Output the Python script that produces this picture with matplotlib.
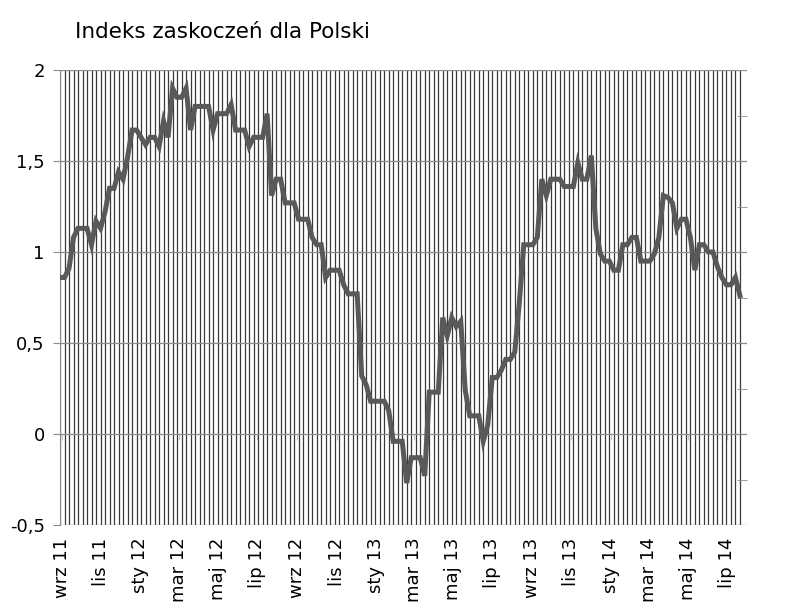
# Indeks zaskoczen dla Polski - weekly series, Excel-like look

import numpy as np
import pandas as pd
import matplotlib
matplotlib.use('Agg')
import matplotlib.pyplot as plt
from matplotlib.ticker import MultipleLocator, FuncFormatter, FixedLocator

start = '2011-08-29'
values = [0.86, 0.86, 0.91, 1.08, 1.13, 1.13, 1.13, 1.04, 1.17, 1.13,
          1.22, 1.35, 1.35, 1.44, 1.40, 1.52, 1.67, 1.67, 1.63, 1.59,
          1.63, 1.63, 1.58, 1.72, 1.63, 1.90, 1.85, 1.85, 1.90, 1.67,
          1.80, 1.80, 1.80, 1.80, 1.67, 1.76, 1.76, 1.76, 1.81, 1.67,
          1.67, 1.67, 1.58, 1.63, 1.63, 1.63, 1.76, 1.31, 1.40, 1.40,
          1.27, 1.27, 1.27, 1.18, 1.18, 1.18, 1.08, 1.04, 1.04, 0.86,
          0.90, 0.90, 0.90, 0.82, 0.77, 0.77, 0.77, 0.32, 0.27, 0.18,
          0.18, 0.18, 0.18, 0.13, -0.04, -0.04, -0.04, -0.27, -0.13, -0.13,
          -0.13, -0.23, 0.23, 0.23, 0.23, 0.64, 0.54, 0.64, 0.59, 0.62,
          0.24, 0.10, 0.10, 0.10, -0.04, 0.05, 0.31, 0.31, 0.35, 0.41,
          0.41, 0.45, 0.72, 1.04, 1.04, 1.04, 1.08, 1.40, 1.31, 1.40,
          1.40, 1.40, 1.36, 1.36, 1.36, 1.49, 1.40, 1.40, 1.53, 1.13,
          0.99, 0.95, 0.95, 0.90, 0.90, 1.04, 1.04, 1.08, 1.08, 0.95,
          0.95, 0.95, 0.99, 1.08, 1.31, 1.30, 1.27, 1.13, 1.18, 1.18,
          1.08, 0.90, 1.04, 1.04, 1.00, 1.00, 0.92, 0.86, 0.82, 0.82,
          0.86, 0.76]
dates = pd.date_range(start, periods=len(values), freq='7D')

month_ticks = pd.date_range('2011-09-01', '2014-07-01', freq='2MS')
month_names = ['wrz 11', 'lis 11', 'sty 12', 'mar 12', 'maj 12', 'lip 12',
               'wrz 12', 'lis 12', 'sty 13', 'mar 13', 'maj 13', 'lip 13',
               'wrz 13', 'lis 13', 'sty 14', 'mar 14', 'maj 14', 'lip 14']

plt.rcParams['font.family'] = ['DejaVu Sans']

fig = plt.figure(figsize=(7.89, 6.05), dpi=100)
ax = fig.add_axes([60/789, 80/605, 687/789, 455/605])

# weekly vertical gridlines
for d in dates:
    ax.axvline(d, color='#3a3a3a', lw=0.9, zorder=1)
# horizontal gridlines
for yv in np.arange(-0.5, 2.01, 0.5):
    ax.axhline(yv, color='#8c8c8c', lw=0.9, zorder=1)

ax.plot(dates, values, color='#595959', lw=3.6, solid_joinstyle='miter', zorder=3)

ax.set_xlim(dates[0], dates[-1] + pd.Timedelta(days=11))
ax.set_ylim(-0.5, 2.0)

for s in ['top', 'right', 'bottom']:
    ax.spines[s].set_visible(False)
ax.spines['left'].set_color('#8c8c8c')

ax.yaxis.set_major_locator(MultipleLocator(0.5))
ax.yaxis.set_minor_locator(FixedLocator([-0.25, 0.25, 0.75, 1.25, 1.75]))
ax.yaxis.set_major_formatter(FuncFormatter(lambda v, p: ('%g' % v).replace('.', ',')))
ax.tick_params(axis='y', which='major', left=True, right=False, length=5,
               color='#8c8c8c', labelsize=13, pad=6)
ax.tick_params(axis='y', which='minor', left=False, right=True, direction='in',
               length=7, color='#8c8c8c')

ax.set_xticks(month_ticks)
ax.set_xticklabels(month_names, rotation=90, va='top', ha='center')
ax.tick_params(axis='x', length=0, labelsize=13, pad=9)

# small tick marks on the zero line
sec = ax.secondary_xaxis(0.2)
sec.set_xticks(month_ticks)
sec.set_xticklabels([])
sec.spines['bottom'].set_visible(False)
sec.tick_params(length=4, color='#c8c8c8')

fig.text(75/789, 1 - 32/605, 'Indeks zaskoczeń dla Polski', fontsize=15.5,
         ha='left', va='center')

fig.savefig('out.png', dpi=100)
